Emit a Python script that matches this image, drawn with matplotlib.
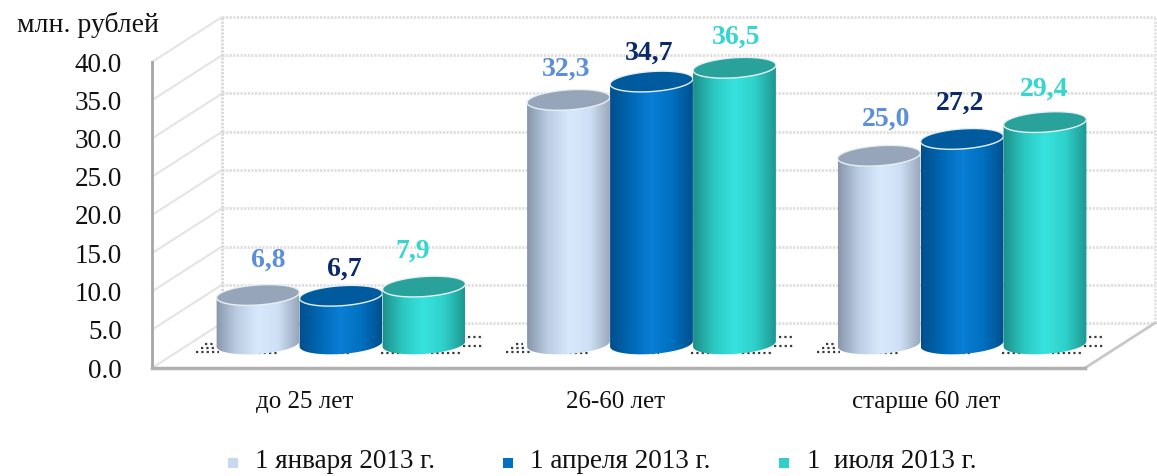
# Диаграмма: цилиндры по возрастным группам
import numpy as np
import matplotlib
matplotlib.use("Agg")
import matplotlib.pyplot as plt
from matplotlib.colors import LinearSegmentedColormap
from matplotlib.patches import Polygon, Rectangle

categories = ["до 25 лет", "26-60 лет", "старше 60 лет"]
series_names = ["1 января 2013 г.", "1 апреля 2013 г.", "1  июля 2013 г."]
jan = [6.8, 32.3, 25.0]
apr = [6.7, 34.7, 27.2]
jul = [7.9, 36.5, 29.4]
y_ticks = [0, 5, 10, 15, 20, 25, 30, 35, 40]

W, H = 1157, 476
FONT = "Liberation Serif"
# масштаб: пикселей на единицу по осям
GX, GY = 310.5, 7.65
X0, Y0 = 341, 347     # центр первой группы, ноль на уровне цилиндров
FRONT = -(368 - Y0) / GY    # сдвиг передней оси
BACK = (Y0 - 323) / GY      # сдвиг задней стенки


def xp(p):
    return (p - X0) / GX


def yp(p):
    return (Y0 - p) / GY


fig = plt.figure(figsize=(W / 100, H / 100), dpi=100)
ax = fig.add_axes([0, 0, 1, 1])
ax.axis("off")

# стенки и пол
dots = (0, (0.8, 0.5))
for v in y_ticks:
    ax.plot([xp(222), xp(1155)], [v + BACK, v + BACK], color="#dedede", lw=2, ls=dots, zorder=1)
    ax.plot([xp(152), xp(222)], [v + FRONT, v + BACK], color="#e4e4e4", lw=1.5, zorder=1)
ax.plot([xp(222), xp(222)], [BACK, 40 + BACK], color="#d8d8d8", lw=2, ls=dots, zorder=1)
ax.plot([xp(1155), xp(1155)], [BACK, 40 + BACK], color="#e2e2e2", lw=2, ls=dots, zorder=1)
ax.plot([xp(1085), xp(1155)], [FRONT, BACK], color="#c8c8c8", lw=2, zorder=1)
ax.plot([xp(152), xp(152)], [FRONT, 40 + FRONT], color="#a6a6a6", lw=2, zorder=2)
ax.plot([xp(152), xp(1085)], [FRONT, FRONT], color="#b0b0b0", lw=2.5, zorder=2)

# подписи оси Y
for v in y_ticks:
    ax.text(xp(122), yp(368 - v * GY + 3), "%.1f" % v, ha="right", va="center", family=FONT,
            fontsize=19.5, color="#111111")
ax.text(xp(88), yp(25), "млн. рублей", ha="center", va="center", family=FONT,
        fontsize=20, color="#111111")

BAR_W = 83 / GX
A, B, TILT = 41.5, 10, np.radians(4)
BASE = 0.4
colors_side = [["#8796ab", "#bccde4", "#d8e8fc", "#cfe0f6", "#98a6b9"],
               ["#004f8c", "#0068b4", "#0a7fd6", "#0070c0", "#00508e"],
               ["#1c8f8a", "#2cc8c2", "#37e3de", "#2fd0ca", "#1f9792"]]
colors_top = ["#96a5b9", "#005a9e", "#2aa29c"]
colors_label = ["#5b8fd9", "#0b2a6b", "#35d6d0"]
# смещения подписей значений, пикс.
label_up = [[35, 27, 35], [31, 28, 31], [37, 36, 33]]
label_dx = [[10, 3, -11], [-2, -2, 2], [7, -2, -1]]
all_values = [jan, apr, jul]


def ellipse(cx, v, t):
    # эллипс в пикселях с наклоном, переводим в данные
    dx = A * np.cos(t) * np.cos(TILT) - B * np.sin(t) * np.sin(TILT)
    dy = A * np.cos(t) * np.sin(TILT) + B * np.sin(t) * np.cos(TILT)
    return np.column_stack([cx + dx / GX, v + dy / GY])


for g in range(len(categories)):
    # редкая точечная тень у основания
    for x1, x2, py in [(-145, -122, 352), (-140, -125, 348), (-136, -128, 344),
                       (-88, -62, 353), (-75, -66, 349), (-5, 8, 353), (-1, 6, 349),
                       (40, 60, 353), (90, 122, 353), (122, 143, 346), (127, 143, 337)]:
        ax.plot([g + x1 / GX, g + x2 / GX], [yp(py), yp(py)], color="#3a3a3a", lw=1.6,
                ls=(0, (1, 1.4)), zorder=2)
    for s in range(3):
        val = all_values[s][g]
        cx = g + (s - 1) * BAR_W
        t_low = np.linspace(np.pi, 2 * np.pi, 60)
        t_up = np.linspace(0, np.pi, 60)
        body = np.vstack([ellipse(cx, BASE, t_low), ellipse(cx, val, t_up)])
        patch = Polygon(body, closed=True, fc="none", ec="none", zorder=3 + s)
        ax.add_patch(patch)
        cmap = LinearSegmentedColormap.from_list("c%d" % s, colors_side[s])
        grad = np.linspace(0, 1, 128).reshape(1, -1)
        im = ax.imshow(grad, cmap=cmap, aspect="auto", zorder=3 + s,
                       extent=[cx - BAR_W / 2, cx + BAR_W / 2, -3, val + 3])
        im.set_clip_path(patch)
        top = ellipse(cx, val, np.linspace(0, 2 * np.pi, 120))
        ax.add_patch(Polygon(top, closed=True, fc=colors_top[s], ec="#e8f0f4", lw=1.0,
                             zorder=3 + s))
        txt = ("%.1f" % val).replace(".", ",")
        ax.text(cx + label_dx[g][s] / GX, val + label_up[g][s] / GY, txt, ha="center",
                va="center", family=FONT, fontsize=20, fontweight="bold",
                color=colors_label[s], zorder=10)
    ax.text(g + xp(305) - xp(341), yp(402), categories[g], ha="center", va="center",
            family=FONT, fontsize=18, color="#111111")

# легенда
leg_marks = [233, 508, 784]
leg_text = [345, 620, 892]      # центры подписей
legend_colors = ["#c6d9f1", "#0070c0", "#31cfc9"]
for s in range(3):
    ax.add_patch(Rectangle((xp(leg_marks[s] - 5), yp(468)), 10 / GX, 10 / GY,
                           fc=legend_colors[s], ec="none"))
    ax.text(xp(leg_text[s]), yp(462), series_names[s], ha="center", va="center",
            family=FONT, fontsize=19.5, color="#111111")

ax.set_xlim(xp(0), xp(W))
ax.set_ylim(yp(H), yp(0))
fig.savefig("out.png", dpi=100, facecolor="white")
